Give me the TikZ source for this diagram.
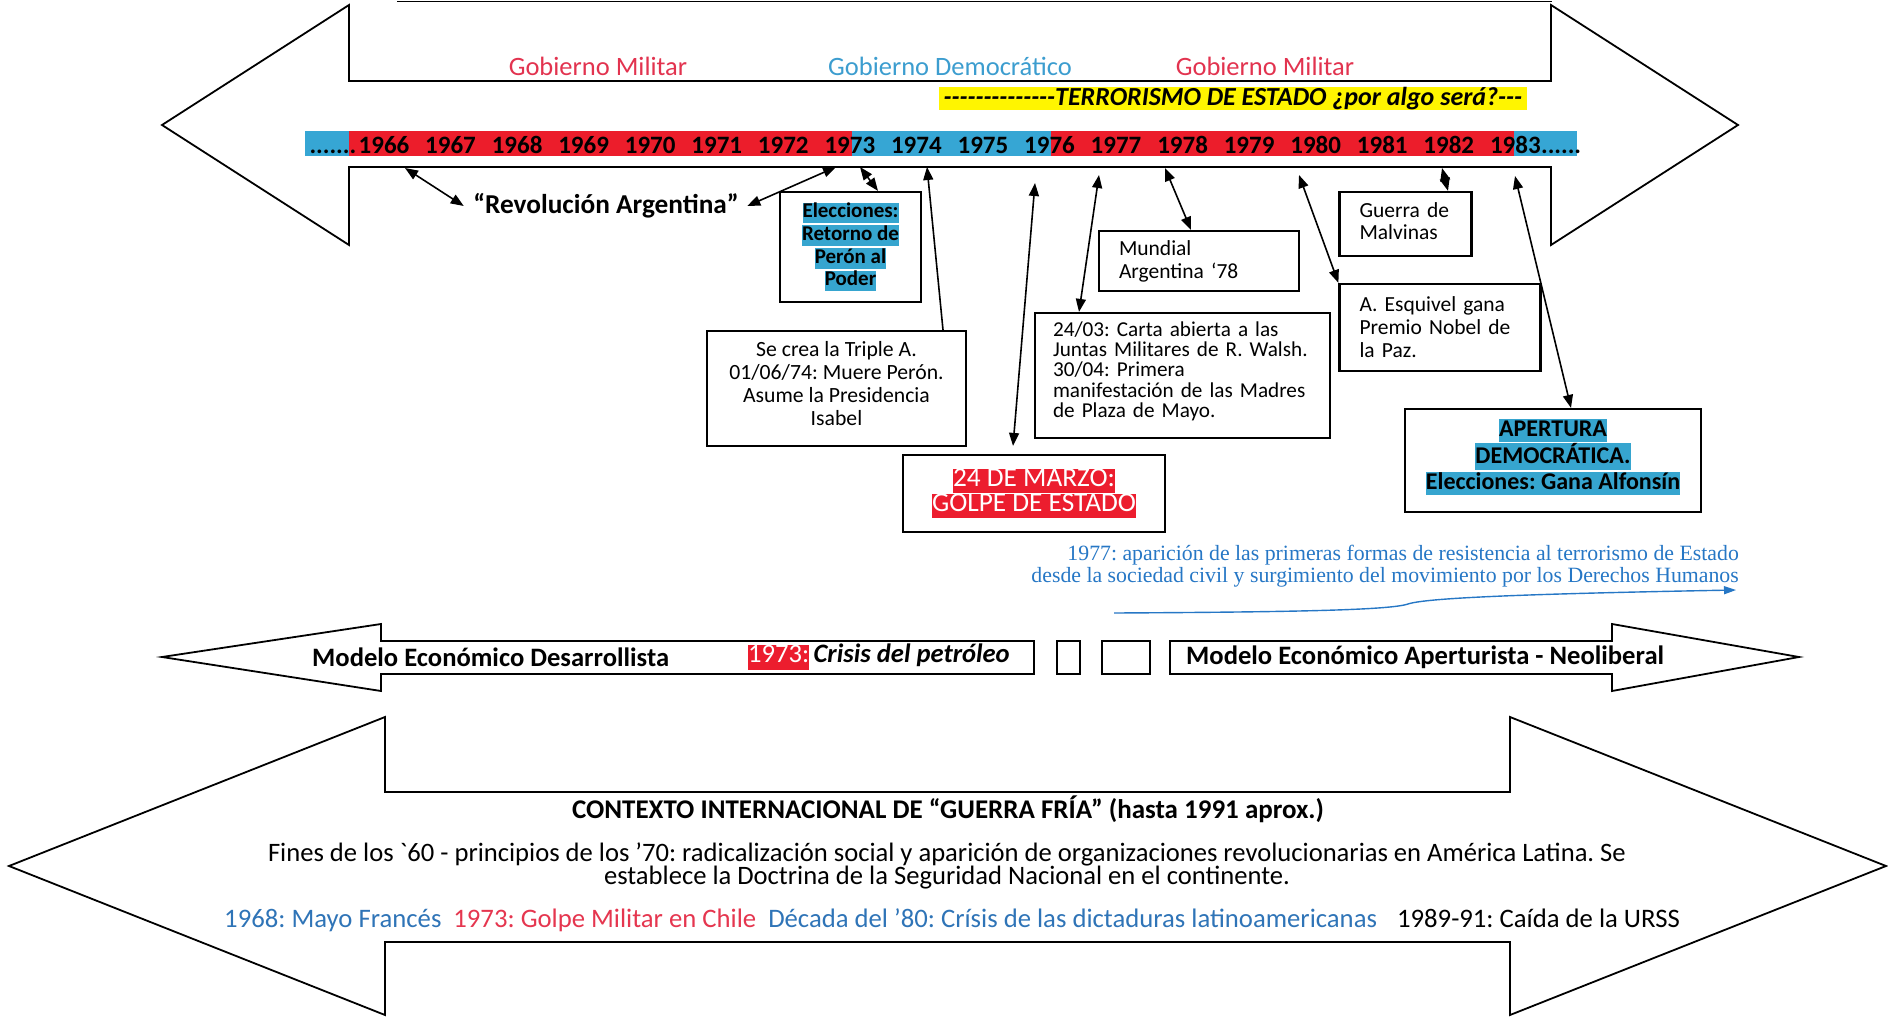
\documentclass[tikz,border=0pt]{standalone}
\usepackage{fontspec}
\setmainfont{Carlito}
\newfontfamily\plaincarlito{Carlito}[Ligatures=TeXOff]
\newfontfamily\timesfont{Liberation Serif}
\usetikzlibrary{arrows.meta}
\definecolor{govred}{HTML}{E2334F}
\definecolor{govblue}{HTML}{3C9DCF}
\definecolor{barred}{HTML}{EC1D2B}
\definecolor{barblue}{HTML}{36A6D4}
\definecolor{hlblue}{HTML}{36A5CF}
\definecolor{hlred}{HTML}{EC1D2E}
\definecolor{hlyellow}{HTML}{FFF500}
\definecolor{resblue}{HTML}{2677C5}
\definecolor{ctxblue}{HTML}{2F74B7}
\definecolor{ctxred}{HTML}{E5364F}
\newcommand\hlbox[2]{{\setlength\fboxsep{0pt}\colorbox{#1}{\rule[-0.25\baselineskip]{0pt}{0.92\baselineskip}#2}}}
\newcommand\fsz[2]{\fontsize{#1}{#2}\selectfont}
\frenchspacing

\begin{document}
\begin{tikzpicture}[x=1pt,y=-1pt,
    outline/.style={draw,line width=1.8pt,line join=miter},
    evbox/.style={draw,line width=2.2pt,inner sep=0pt},
    leftbox/.style={evbox,align=left,inner xsep=20pt},
    link/.style={line width=1.6pt,{Triangle[length=13pt,width=10pt]}-{Triangle[length=13pt,width=10pt]}},
    uplink/.style={line width=1.6pt,-{Triangle[length=13pt,width=10pt]}},
    year/.style={font=\fsz{25}{28}\bfseries,inner sep=0pt}]
\useasboundingbox (0,0) rectangle (1888,1017);
\draw[line width=1.5pt] (397,1.5) -- (1552,1.5);
\draw[outline] (162,125) -- (349,5) -- (349,81) -- (1551,81) -- (1551,5) -- (1738,125) -- (1551,245) -- (1551,167) -- (349,167) -- (349,245) -- cycle;
\node[text=govred,font=\fsz{26.5}{30}] (milA) at (598,66) {Gobierno Militar};
\node[text=govblue,font=\fsz{26.5}{30}] (dem) at (950,66) {Gobierno Democrático};
\node[text=govred,font=\fsz{26.5}{30}] (milB) at (1265,66) {Gobierno Militar};
\node[fill=hlyellow,minimum width=588pt,minimum height=23pt,inner sep=0pt,font=\plaincarlito\fsz{26}{28}\bfseries\itshape] (terror) at (1233,98.5) {--------------TERRORISMO DE ESTADO ¿por algo será?---};

\fill[barblue] (305,131) rectangle (349,156);
\fill[barred] (349,131) rectangle (852,156);
\fill[barblue] (852,131) rectangle (1051,156);
\fill[barred] (1051,131) rectangle (1514,156);
\fill[barblue] (1514,131) rectangle (1577,156);
\foreach \yr [count=\i from 0] in {1966,...,1983}
  \node[year] (y\yr) at (384+66.55*\i,145) {\yr};
\node[year,anchor=base east] (dotsL) at ([xshift=-2pt]y1966.base west) {.......};
\node[year,anchor=base west] (dotsR) at (y1983.base east) {......};

\coordinate (t66) at (405,168);
\coordinate (t72) at (836,167);
\coordinate (t73) at (860,167);
\coordinate (t74) at (927,167);
\coordinate (t75) at (1035,183);
\coordinate (t77) at (1099,175);
\coordinate (t78) at (1165,168);
\coordinate (t80) at (1299,175);
\coordinate (t82) at (1442,168);
\coordinate (t83) at (1515,176);

\node[font=\fsz{27.3}{30}\bfseries] (revo) at (606,206) {“Revolución Argentina”};
\node[evbox,minimum width=141pt,minimum height=110pt,align=center,font=\fsz{21}{22.7}\bfseries] (elec) at (850.5,247) {\hlbox{hlblue}{Elecciones:}\\\hlbox{hlblue}{Retorno de}\\\hlbox{hlblue}{Perón al}\\\hlbox{hlblue}{Poder}};
\node[evbox,minimum width=259pt,minimum height=115pt,align=center,text depth=10pt,font=\fsz{21.7}{23}] (triple) at (836.5,388.5) {Se crea la Triple A.\\01/06/74: Muere Perón.\\Asume la Presidencia\\Isabel};
\node[evbox,minimum width=262pt,minimum height=77pt,align=center,font=\fsz{27.3}{25}] (golpe) at (1034,493.5) {\hlbox{hlred}{\textcolor{white}{24 DE MARZO:}}\\\hlbox{hlred}{\textcolor{white}{GOLPE DE ESTADO}}};
\node[leftbox,inner xsep=18pt,text width=259pt,minimum height=125pt,text depth=93pt,font=\fsz{21.2}{20.3}] (carta) at (1182.5,375.5) {24/03: Carta abierta a las\\Juntas Militares de R. Walsh.\\30/04: Primera\\manifestación de las Madres\\de Plaza de Mayo.};
\node[leftbox,text width=160pt,minimum height=60pt,font=\fsz{21.5}{23}] (mundial) at (1199,261) {Mundial\\Argentina ‘78};
\node[leftbox,text width=161pt,minimum height=87pt,font=\fsz{21.5}{23}] (esq) at (1440,327.5) {A. Esquivel gana\\Premio Nobel de\\la Paz.};
\node[leftbox,text width=92pt,minimum height=64pt,text depth=27pt,font=\fsz{21.5}{22}] (malv) at (1405.5,224) {Guerra de\\Malvinas};
\node[evbox,minimum width=296pt,minimum height=103pt,align=center,text depth=13pt,font=\fsz{24}{25.5}\bfseries] (apert) at (1553,460.5) {\hlbox{hlblue}{APERTURA}\\\hlbox{hlblue}{DEMOCRÁTICA.}\\\hlbox{hlblue}{Elecciones: Gana Alfonsín}};

\draw[link] (t66) -- ([xshift=-6pt]revo.west);
\draw[link] (t72) -- ([xshift=5pt]revo.east);
\draw[link] (t73) -- ([xshift=27.5pt]elec.north);
\draw[uplink] ([xshift=106.5pt]triple.north) -- (t74);
\draw[link] (t75) -- ([xshift=-21pt,yshift=8pt]golpe.north);
\draw[link] (t77) -- ([xshift=-103.5pt]carta.north);
\draw[link] (t78) -- ([xshift=-8pt]mundial.north);
\draw[link] (t80) -- (esq.north west);
\draw[link] (t82) -- ([xshift=42.5pt]malv.north);
\draw[link] (t83) -- ([xshift=18pt]apert.north);

\node[text=resblue,font=\timesfont\fsz{21.8}{22},align=right,anchor=east,inner sep=0pt] (resist) at (1739,566) {1977: aparición de las primeras formas de resistencia al terrorismo de Estado\\desde la sociedad civil y surgimiento del movimiento por los Derechos Humanos};
\coordinate (resS) at (1114,613);
\coordinate (resE) at (1736,590);
\draw[resblue,line width=1.4pt,-{Triangle[length=12pt,width=8pt]}] (resS) .. controls (1300,612) and (1390,610) .. (1408,604) .. controls (1426,598) and (1520,594) .. (resE);

\draw[outline] (162,657) -- (381,624) -- (381,641) -- (1034,641) -- (1034,674) -- (381,674) -- (381,691) -- cycle;
\draw[outline] (1057,641) rectangle (1080,674);
\draw[outline] (1102,641) rectangle (1150,674);
\draw[outline] (1170,641) -- (1612,641) -- (1612,624) -- (1799,657) -- (1612,691) -- (1612,674) -- (1170,674) -- cycle;
\node[anchor=west,inner sep=0pt,font=\fsz{26.6}{28}\bfseries] (desarr) at (312,657) {Modelo Económico Desarrollista};
\node[anchor=west,inner sep=0pt,font=\fsz{26.6}{27}] (crisis) at (748,657) {\hlbox{hlred}{\textcolor{white}{1973:}}\,\textbf{\textit{Crisis del petróleo}}};
\node[anchor=west,inner sep=0pt,font=\fsz{26.6}{28}\bfseries] (neolib) at (1186,657) {Modelo Económico Aperturista - Neoliberal};

\draw[outline] (9,866) -- (385,717) -- (385,792) -- (1510,792) -- (1510,717) -- (1886,866) -- (1510,1015) -- (1510,942) -- (385,942) -- (385,1015) -- cycle;
\node[font=\fsz{27}{30}\bfseries] (ctx) at (948,809) {CONTEXTO INTERNACIONAL DE “GUERRA FRÍA” (hasta 1991 aprox.)};
\node[align=center,font=\fsz{26.6}{23.5}] (fines) at (947,866) {Fines de los {\plaincarlito`}60 - principios de los ’70: radicalización social y aparición de organizaciones revolucionarias en América Latina. Se\\establece la Doctrina de la Seguridad Nacional en el continente.};
\node[font=\fsz{26.7}{28}] (hitos) at (952,920) {\textcolor{ctxblue}{1968: Mayo Francés}\hspace{0.45em}\textcolor{ctxred}{1973: Golpe Militar en Chile}\hspace{0.45em}\textcolor{ctxblue}{Década del ’80: Crísis de las dictaduras latinoamericanas}\hspace{0.75em}1989-91: Caída de la URSS};
\end{tikzpicture}
\end{document}
